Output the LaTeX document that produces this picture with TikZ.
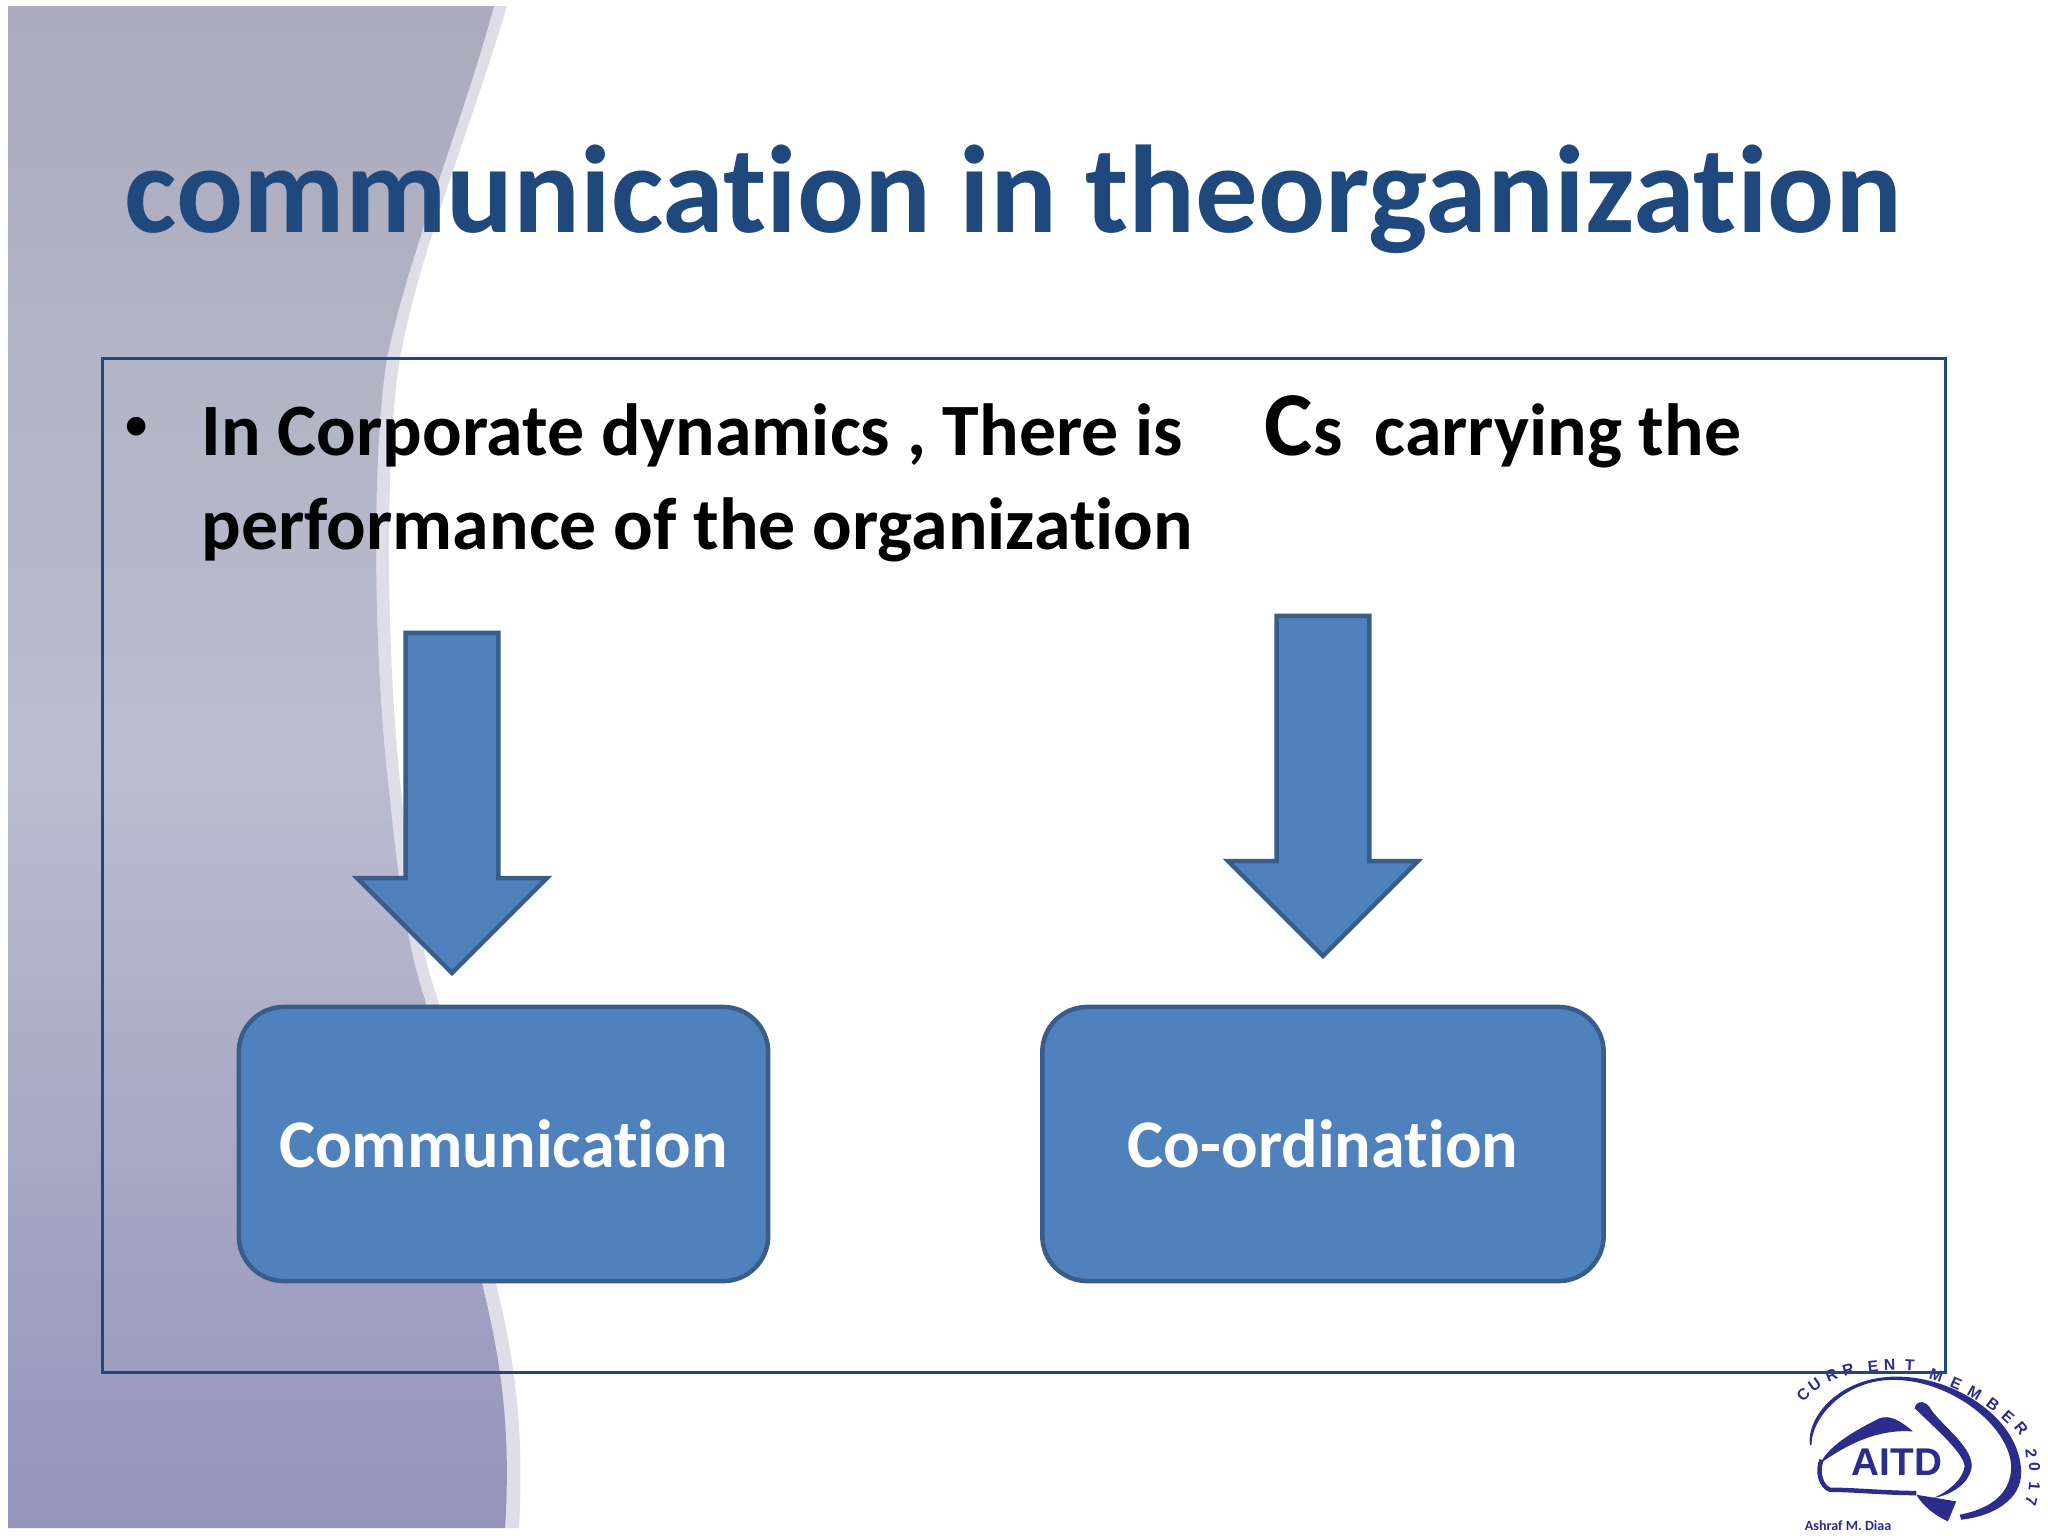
\documentclass[tikz,border=0pt]{standalone}
\usepackage{fontspec}
\setmainfont[Ligatures=NoCommon]{Carlito}
\newfontfamily\logofont{Liberation Sans}
\usetikzlibrary{positioning, shapes.arrows}
\definecolor{boxfill}{HTML}{4F81BD}
\definecolor{boxline}{HTML}{385D8A}
\definecolor{titleblue}{HTML}{1F497D}
\definecolor{logoblue}{HTML}{2C2C8C}
\definecolor{panelband}{HTML}{DEDDE8}
\definecolor{paneltop}{HTML}{ABABBD}
\definecolor{panelmid}{HTML}{BCBCD0}
\definecolor{panelend}{HTML}{9593BA}
\tikzset{
  bluebox/.style={draw=boxline, fill=boxfill, line width=0.045cm, rounded corners=0.45cm,
    minimum height=2.74cm, text=white, font=\fontsize{19.4}{19.4}\selectfont\bfseries, outer sep=0pt},
  downarrow/.style={single arrow, draw=boxline, fill=boxfill, line width=0.045cm, shape border rotate=270,
    single arrow head extend=0.485cm, single arrow head indent=0cm, single arrow tip angle=90,
    minimum height=3.4cm, inner ysep=0pt, inner xsep=0.44cm, text height=0pt, text depth=0pt, text width=0pt, outer sep=0pt, anchor=tip},
  bodytext/.style={anchor=base west, inner sep=0pt, font=\fontsize{21}{21}\selectfont\bfseries},
  logoletter/.style={text=logoblue, inner sep=0pt, font=\logofont\fontsize{4.5}{4.5}\selectfont\bfseries}
}
\begin{document}
\begin{tikzpicture}[x=0.01cm, y=-0.01cm]
      \useasboundingbox (0,0) rectangle (2048,1536);
      % panel on the left
      \fill[panelband] (8,6) -- (507,6) .. controls (470,130) and (420,250) .. (400,358)
        .. controls (385,450) and (385,650) .. (402,800) .. controls (410,880) and (420,950) .. (438,1000)
        .. controls (460,1110) and (475,1200) .. (496,1283) .. controls (512,1350) and (525,1420) .. (519,1528) -- (8,1528) -- cycle;
      \shade[top color=paneltop, bottom color=panelend, middle color=panelmid] (8,6) -- (494,6) .. controls (460,130) and (410,250) .. (387,358)
        .. controls (372,450) and (372,650) .. (390,800) .. controls (398,880) and (408,950) .. (425,1000)
        .. controls (447,1110) and (462,1200) .. (482,1283) .. controls (498,1350) and (512,1420) .. (505,1528) -- (8,1528) -- cycle;
      % logo
      \begin{scope}[shift={(1700,1320)}, x=0.00333cm, y=-0.00333cm]
        \fill[logoblue] (330,375) .. controls (320,290) and (420,170) .. (590,170) .. controls (770,170) and (965,300) .. (965,460)
          .. controls (965,540) and (880,590) .. (785,600) -- (780,585) .. controls (860,570) and (935,530) .. (935,440)
          .. controls (930,320) and (760,185) .. (590,180) .. controls (440,175) and (335,290) .. (335,375) -- cycle;
        \fill[logoblue] (640,335) .. controls (600,300) and (570,285) .. (540,295) .. controls (490,320) and (390,370) .. (362,430)
          .. controls (420,390) and (520,325) .. (640,335) -- cycle;
        \draw[logoblue, line width=0.045cm] (365,420) .. controls (350,460) and (365,500) .. (390,510)
          .. controls (460,510) and (560,520) .. (650,520);
        \fill[logoblue] (645,265) .. controls (650,240) and (680,240) .. (695,270) .. controls (730,320) and (830,390) .. (815,450)
          .. controls (805,490) and (760,525) .. (700,535) .. controls (740,520) and (790,480) .. (795,440)
          .. controls (795,400) and (690,310) .. (645,265) -- cycle;
        \fill[logoblue] (650,525) -- (770,545) -- (745,605) .. controls (710,590) and (670,560) .. (650,525) -- cycle;
        \node[text=logoblue, inner sep=0pt, font=\logofont\fontsize{11}{11}\selectfont\bfseries] (aitd) at (592,428) {AITD};
        \node[text=logoblue, inner sep=0pt, font=\fontsize{4}{4}\selectfont\bfseries] (owner) at (445,618) {Ashraf M. Diaa};
        \foreach \ltr/\lx/\ly/\lr [count=\li] in {C/310/225/45, U/345/195/35, R/395/165/22, R/445/150/15, E/520/140/6, N/570/135/2, T/630/135/-3,
            M/710/165/-18, E/770/190/-24, M/825/220/-30, B/880/255/-36, E/925/290/-42, R/965/325/-50,
            2/995/400/-85, 0/1005/440/-90, 1/1005/500/-95, 7/995/545/-105}
          \node[logoletter, rotate=\lr] (letter\li) at (\lx,\ly) {\ltr};
      \end{scope}
      % frame and title
      \draw[titleblue, line width=0.03cm] (102,358) rectangle (1945,1372);
      \node[anchor=base west, inner sep=0pt, text=titleblue, font=\fontsize{35.5}{35.5}\selectfont\bfseries] (title) at (124,232) {communication in theorganization};
      \node[bodytext, font=\fontsize{15}{15}\selectfont] (bullet) at (123,441) {•};
      \node[bodytext] (line1) at (201,455) {In Corporate dynamics , There is};
      \node[bodytext] (cs) at (1264,455) {{\fontsize{26}{26}\selectfont C}s};
      \node[bodytext] (carry) at (1374,455) {carrying the};
      \node[bodytext] (line2) at (201,549) {performance of the organization};
      % boxes and arrows
      \node[bluebox, minimum width=5.29cm] (comm) at (503.5,1144) {Communication};
      \node[bluebox, minimum width=5.61cm, right=2.74cm of comm] (coord) {Co-ordination};
      \node[downarrow] (arrowcomm) at (452,973) {};
      \node[downarrow] (arrowcoord) at (1323,956) {};
\end{tikzpicture}
\end{document}
